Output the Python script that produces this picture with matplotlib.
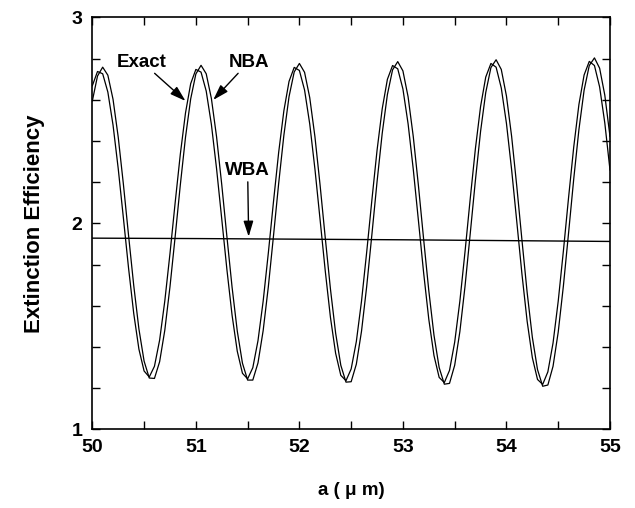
import numpy as np
import matplotlib
matplotlib.use('Agg')
import matplotlib.pyplot as plt
from matplotlib.ticker import MultipleLocator

plt.rcParams['font.family'] = ['Liberation Sans', 'DejaVu Sans']
plt.rcParams['font.weight'] = 'bold'

# sphere radius a (um), sampled every 0.05
a_um = np.linspace(50, 55, 101)

exact_q = [2.668, 2.737, 2.726, 2.637, 2.477, 2.266, 2.026, 1.782, 1.562, 1.389, 1.283, 1.254, 1.306, 1.433, 1.623, 1.853, 2.100, 2.336, 2.536,
           2.678, 2.747, 2.734, 2.642, 2.480, 2.265, 2.021, 1.775, 1.553, 1.379, 1.272, 1.245, 1.299, 1.430, 1.622, 1.856, 2.106, 2.345, 2.546,
           2.689, 2.757, 2.742, 2.647, 2.482, 2.264, 2.017, 1.768, 1.543, 1.369, 1.262, 1.236, 1.293, 1.426, 1.622, 1.860, 2.112, 2.354, 2.556,
           2.699, 2.766, 2.750, 2.652, 2.483, 2.262, 2.012, 1.760, 1.534, 1.358, 1.252, 1.227, 1.286, 1.423, 1.622, 1.863, 2.119, 2.362, 2.567,
           2.710, 2.776, 2.758, 2.657, 2.485, 2.260, 2.007, 1.752, 1.524, 1.348, 1.242, 1.218, 1.279, 1.419, 1.622, 1.866, 2.125, 2.371, 2.577,
           2.720, 2.786, 2.766, 2.662, 2.487, 2.259]

nba_q = [2.594, 2.715, 2.758, 2.719, 2.602, 2.419, 2.190, 1.941, 1.698, 1.487, 1.331, 1.249, 1.247, 1.328, 1.481, 1.692, 1.935, 2.187, 2.418,
         2.604, 2.725, 2.767, 2.726, 2.606, 2.420, 2.188, 1.935, 1.689, 1.477, 1.321, 1.239, 1.239, 1.322, 1.479, 1.692, 1.940, 2.194, 2.427,
         2.615, 2.735, 2.776, 2.733, 2.610, 2.421, 2.185, 1.929, 1.681, 1.467, 1.311, 1.229, 1.231, 1.316, 1.476, 1.693, 1.944, 2.201, 2.437,
         2.625, 2.745, 2.785, 2.740, 2.614, 2.421, 2.182, 1.923, 1.673, 1.457, 1.300, 1.219, 1.223, 1.311, 1.474, 1.695, 1.949, 2.208, 2.446,
         2.635, 2.756, 2.794, 2.747, 2.618, 2.422, 2.179, 1.917, 1.664, 1.447, 1.290, 1.209, 1.215, 1.306, 1.472, 1.696, 1.953, 2.216, 2.455,
         2.646, 2.766, 2.803, 2.753, 2.622, 2.422]

wba_a = [50, 51, 52, 53, 54, 55]
wba_q = [1.928, 1.926, 1.923, 1.920, 1.916, 1.912]

fig = plt.figure(figsize=(6.35, 5.08), dpi=100)
ax = fig.add_axes([0.1454, 0.1549, 0.8152, 0.811])

ax.plot(a_um, exact_q, color='black', lw=0.9)
ax.plot(a_um, nba_q, color='black', lw=0.9)
ax.plot(wba_a, wba_q, color='black', lw=1.0)

ax.set_xlim(50, 55)
ax.set_ylim(1, 3)
ax.xaxis.set_major_locator(MultipleLocator(1))
ax.xaxis.set_minor_locator(MultipleLocator(0.5))
ax.yaxis.set_major_locator(MultipleLocator(1))
ax.yaxis.set_minor_locator(MultipleLocator(0.2))
ax.tick_params(which='both', direction='in', top=True, right=True, length=5.5, width=1)
ax.tick_params(labelsize=14, pad=7)
for lab in ax.get_xticklabels() + ax.get_yticklabels():
    lab.set_fontweight('bold')
for s in ax.spines.values():
    s.set_linewidth(1.2)

ax.set_xlabel('a ( \u03bc m)', fontsize=13.5, fontweight='bold', labelpad=19)
ax.set_ylabel('Extinction Efficiency', fontsize=16, fontweight='bold', labelpad=19)

arr = dict(arrowstyle='-|>,head_length=0.7,head_width=0.22', color='black', lw=1, shrinkA=0, shrinkB=0)
ax.annotate('Exact', xy=(50.90, 2.594), xytext=(50.48, 2.783), fontsize=13.5, fontweight='bold',
            ha='center', va='center', arrowprops=arr)
ax.annotate('NBA', xy=(51.168, 2.599), xytext=(51.51, 2.783), fontsize=13.5, fontweight='bold',
            ha='center', va='center', arrowprops=arr)
ax.annotate('WBA', xy=(51.51, 1.935), xytext=(51.50, 2.256), fontsize=13.5, fontweight='bold',
            ha='center', va='center', arrowprops=arr)

fig.savefig('out.png', dpi=100)
